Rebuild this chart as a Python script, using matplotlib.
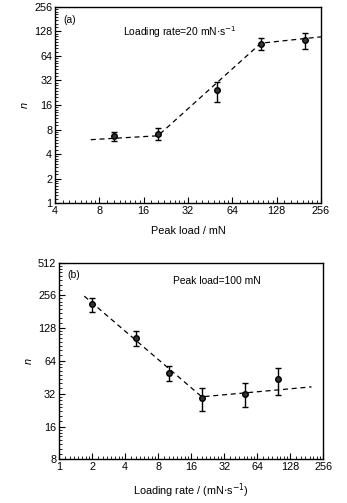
import numpy as np
import matplotlib.pyplot as plt
from matplotlib.ticker import LogLocator, FixedLocator, FixedFormatter, NullFormatter

plt.rcParams['font.family'] = ['Liberation Sans', 'DejaVu Sans']

# panel (a): loading rate 20 mN/s
load_a = [10, 20, 50, 100, 200]
n_a = [6.7, 7.1, 24.5, 90, 102]
n_a_hi = [7.5, 8.3, 31, 105, 122]
n_a_lo = [5.7, 5.9, 17.3, 75, 79]
fit_a_x = [7, 20, 100, 256]
fit_a_y = [6.0, 6.7, 92, 110]

# panel (b): peak load 100 mN
rate_b = [2, 5, 10, 20, 50, 100]
n_b = [212, 105, 50, 29.4, 32, 43.4]
n_b_hi = [240, 120, 57, 36, 40, 55]
n_b_lo = [181, 88, 42, 22, 24, 31]
fit_b_x = [1.7, 20, 200]
fit_b_y = [252, 30, 37]

xt_a = [4, 8, 16, 32, 64, 128, 256]
yt_a = [1, 2, 4, 8, 16, 32, 64, 128, 256]
xt_b = [1, 2, 4, 8, 16, 32, 64, 128, 256]
yt_b = [8, 16, 32, 64, 128, 256, 512]

fs = 7.8


def panel(ax, x, y, hi, lo, fx, fy, xt, yt, xlabel, tag, note, note_xy):
    ax.set_xscale('log', base=2)
    ax.set_yscale('log', base=2)
    ax.plot(fx, fy, ls=(0, (4, 3)), color='black', lw=0.9)
    yerr = [np.array(y) - np.array(lo), np.array(hi) - np.array(y)]
    ax.errorbar(x, y, yerr=yerr, fmt='o', color='black', ms=4.0,
                mfc='#333333', mec='black', ecolor='black', elinewidth=1.0,
                capsize=2.5, capthick=1.0)
    ax.set_xlim(xt[0], xt[-1])
    ax.set_ylim(yt[0], yt[-1])
    ax.xaxis.set_major_locator(FixedLocator(xt))
    ax.xaxis.set_major_formatter(FixedFormatter([str(v) for v in xt]))
    ax.yaxis.set_major_locator(FixedLocator(yt))
    ax.yaxis.set_major_formatter(FixedFormatter([str(v) for v in yt]))
    subs = np.arange(1.125, 2.0, 0.125)
    ax.xaxis.set_minor_locator(LogLocator(base=2, subs=subs, numticks=50))
    ax.yaxis.set_minor_locator(LogLocator(base=2, subs=subs, numticks=50))
    ax.xaxis.set_minor_formatter(NullFormatter())
    ax.yaxis.set_minor_formatter(NullFormatter())
    ax.tick_params(which='both', direction='in', top=False, right=False,
                   labelsize=fs, pad=2)
    ax.tick_params(which='major', length=4, width=0.8)
    ax.tick_params(which='minor', length=2, width=0.6)
    for s in ax.spines.values():
        s.set_linewidth(1.0)
    ax.set_xlabel(xlabel, fontsize=fs, labelpad=7)
    ax.set_ylabel('n', fontsize=fs, style='italic', labelpad=3)
    ax.text(0.03, 0.96, tag, transform=ax.transAxes, fontsize=fs - 0.4,
            va='top', ha='left')
    ax.text(note_xy[0], note_xy[1], note, transform=ax.transAxes,
            fontsize=fs - 0.4, va='top', ha='left')


fig = plt.figure(figsize=(3.47, 5.03), dpi=100)
ax1 = fig.add_axes([0.1585, 0.5964, 0.7666, 0.3897])
ax2 = fig.add_axes([0.170, 0.0869, 0.7617, 0.391])

panel(ax1, load_a, n_a, n_a_hi, n_a_lo, fit_a_x, fit_a_y, xt_a, yt_a,
      'Peak load / mN', '(a)', r'Loading rate=20 mN$\cdot$s$^{-1}$', (0.255, 0.91))
panel(ax2, rate_b, n_b, n_b_hi, n_b_lo, fit_b_x, fit_b_y, xt_b, yt_b,
      r'Loading rate / (mN$\cdot$s$^{-1}$)', '(b)', 'Peak load=100 mN', (0.43, 0.93))

fig.savefig('out.png', dpi=100)
